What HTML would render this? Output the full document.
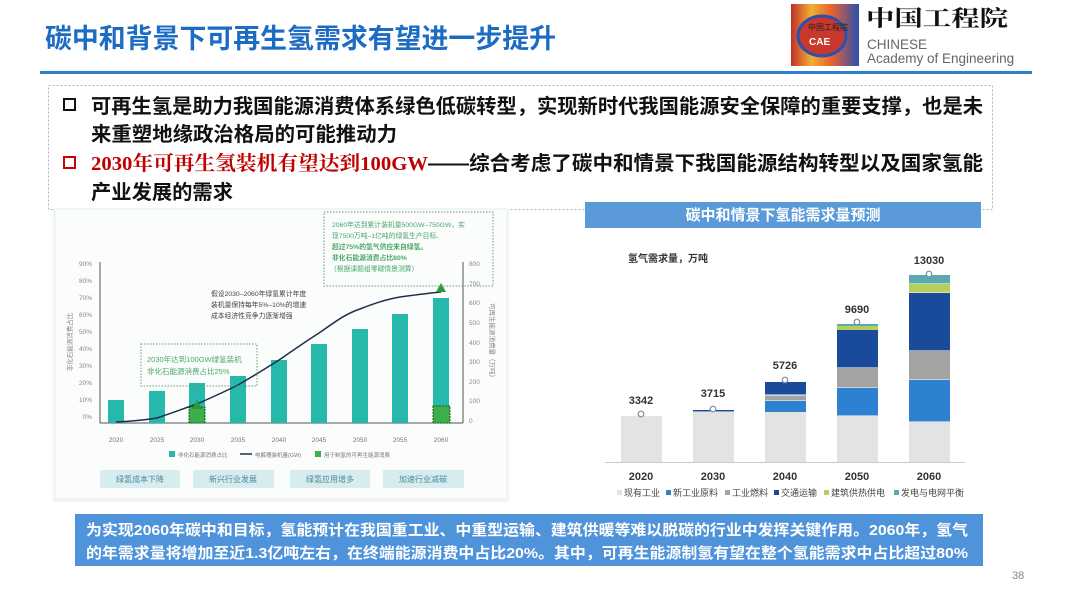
<!DOCTYPE html>
<html><head><meta charset="utf-8"><style>
html,body{margin:0;padding:0;background:#fff;}
svg{display:block;font-family:"Liberation Sans","Noto Sans CJK SC",sans-serif;}
</style></head><body>
<svg width="1080" height="607" viewBox="0 0 1080 607" xmlns="http://www.w3.org/2000/svg">
<!-- header -->
<text x="45" y="48" font-size="27" font-weight="bold" fill="#1d6cc4" textLength="511" lengthAdjust="spacingAndGlyphs">碳中和背景下可再生氢需求有望进一步提升</text>
<rect x="40" y="71" width="992" height="3" fill="#2a7fd0"/>
<!-- logo -->
<defs><linearGradient id="lg" x1="0" x2="1"><stop offset="0" stop-color="#c0302a"/><stop offset="0.3" stop-color="#f0b030"/><stop offset="0.6" stop-color="#e86030"/><stop offset="1" stop-color="#2a50b0"/></linearGradient></defs>
<rect x="791" y="4" width="68" height="62" fill="url(#lg)"/>
<ellipse cx="822" cy="36" rx="24" ry="20" fill="#c8382c" stroke="#2a50b0" stroke-width="3"/>
<text x="808" y="30" font-size="8" fill="#222">中国工程院</text>
<text x="809" y="45" font-size="10" font-weight="bold" fill="#fff">CAE</text>
<text x="866" y="26" font-size="22" font-weight="bold" font-family="'Noto Serif CJK SC',serif" fill="#111" textLength="142" lengthAdjust="spacingAndGlyphs">中国工程院</text>
<text x="867" y="49" font-size="13.5" fill="#666">CHINESE</text>
<text x="867" y="63" font-size="13.5" fill="#666">Academy of Engineering</text>
<!-- bullet box -->
<rect x="48.5" y="85.5" width="944" height="124" fill="none" stroke="#a8b8d0" stroke-dasharray="2,2"/>
<g font-size="20" font-weight="bold">
<rect x="64" y="99" width="11" height="11" fill="none" stroke="#111" stroke-width="2"/>
<text x="91" y="113" fill="#111" textLength="892" lengthAdjust="spacingAndGlyphs">可再生氢是助力我国能源消费体系绿色低碳转型，实现新时代我国能源安全保障的重要支撑，也是未</text>
<text x="91" y="141" fill="#111" textLength="306" lengthAdjust="spacingAndGlyphs">来重塑地缘政治格局的可能推动力</text>
<rect x="64" y="157" width="11" height="11" fill="none" stroke="#c00" stroke-width="2"/>
<text x="91" y="170" fill="#c00000" font-family="'Liberation Serif','Noto Serif CJK SC',serif" textLength="337" lengthAdjust="spacingAndGlyphs">2030年可再生氢装机有望达到100GW</text>
<text x="428" y="170" fill="#111" textLength="555" lengthAdjust="spacingAndGlyphs">——综合考虑了碳中和情景下我国能源结构转型以及国家氢能</text>
<text x="91" y="199" fill="#111" textLength="142" lengthAdjust="spacingAndGlyphs">产业发展的需求</text>
</g>
<!-- left chart -->
<rect x="53" y="208" width="456" height="294" fill="#f2f5f5"/>
<rect x="56" y="210" width="450" height="288" fill="#fbfcfc"/>
<g font-size="6.5" fill="#888">
<text x="92" y="266" text-anchor="end">90%</text><text x="92" y="283" text-anchor="end">80%</text><text x="92" y="300" text-anchor="end">70%</text><text x="92" y="317" text-anchor="end">60%</text><text x="92" y="334" text-anchor="end">50%</text><text x="92" y="351" text-anchor="end">40%</text><text x="92" y="368" text-anchor="end">30%</text><text x="92" y="385" text-anchor="end">20%</text><text x="92" y="402" text-anchor="end">10%</text><text x="92" y="419" text-anchor="end">0%</text>
<text x="469" y="266">800</text><text x="469" y="286">700</text><text x="469" y="305">600</text><text x="469" y="325">500</text><text x="469" y="345">400</text><text x="469" y="364">300</text><text x="469" y="384">200</text><text x="469" y="403">100</text><text x="469" y="423">0</text>
<text transform="translate(72,342) rotate(-90)" text-anchor="middle">非化石能源消费占比</text>
<text transform="translate(490,342) rotate(90)" text-anchor="middle">可再生能源消费量（万吨）</text>
</g>
<line x1="100" y1="262" x2="100" y2="423" stroke="#555" stroke-width="1"/>
<line x1="463" y1="262" x2="463" y2="423" stroke="#555" stroke-width="1"/>
<line x1="100" y1="423" x2="463" y2="423" stroke="#555" stroke-width="1"/>
<g fill="#26b8aa">
<rect x="108" y="400" width="16" height="23"/><rect x="149" y="391" width="16" height="32"/><rect x="189" y="383" width="16" height="40"/><rect x="230" y="376" width="16" height="47"/><rect x="271" y="360" width="16" height="63"/><rect x="311" y="344" width="16" height="79"/><rect x="352" y="329" width="16" height="94"/><rect x="392" y="314" width="16" height="109"/><rect x="433" y="298" width="16" height="125"/>
</g>
<rect x="189" y="407" width="16" height="16" fill="#3cae4a" stroke="#1a5a20" stroke-dasharray="2,1"/>
<rect x="433" y="406" width="17" height="17" fill="#3cae4a" stroke="#1a5a20" stroke-dasharray="2,1"/>
<path d="M116,422 C135,421 145,420 157,418 C175,412 185,408 197,404 C215,396 228,390 238,385 C255,375 265,369 279,360 C295,349 305,342 319,333 C335,322 345,314 360,309 C375,303 388,299 400,297 C415,295 430,293 441,292" fill="none" stroke="#1c2f4a" stroke-width="1.5"/>
<polygon points="441,283 436,292 446,292" fill="#2a9a3a"/>
<polygon points="197,400 192,409 202,409" fill="#2a9a3a"/>
<rect x="324" y="212" width="169" height="74" fill="none" stroke="#6a9a7a" stroke-dasharray="1.5,1.5"/>
<rect x="141" y="344" width="116" height="42" fill="none" stroke="#6a9a7a" stroke-dasharray="1.5,1.5"/>
<g font-size="6.8" fill="#4aa868">
<text x="332" y="227">2060年达到累计装机量500GW–750GW，实</text>
<text x="332" y="238">现7500万吨–1亿吨的绿氢生产目标、</text>
<text x="332" y="249" font-weight="bold">超过75%的氢气供应来自绿氢。</text>
<text x="332" y="260" font-weight="bold">非化石能源消费占比80%</text>
<text x="330" y="271">（根据课题组零碳情景测算）</text>
<text x="147" y="362" font-size="7.5">2030年达到100GW绿氢装机</text>
<text x="147" y="374" font-size="7.5">非化石能源消费占比25%</text>
</g>
<g font-size="6.8" fill="#444">
<text x="211" y="296">假设2030–2060年绿氢累计年度</text>
<text x="211" y="307">装机量保持每年5%–10%的增速</text>
<text x="211" y="318">成本经济性竞争力逐渐增强</text>
</g>
<g font-size="6.5" fill="#777" text-anchor="middle">
<text x="116" y="442">2020</text><text x="157" y="442">2025</text><text x="197" y="442">2030</text><text x="238" y="442">2035</text><text x="279" y="442">2040</text><text x="319" y="442">2045</text><text x="360" y="442">2050</text><text x="400" y="442">2055</text><text x="441" y="442">2060</text>
</g>
<rect x="169" y="451" width="6" height="6" fill="#26b8aa"/><text x="178" y="457" font-size="5.5" fill="#777">非化石能源消费占比</text>
<line x1="240" y1="454" x2="252" y2="454" stroke="#1c2f4a" stroke-width="1.5"/><text x="255" y="457" font-size="5.5" fill="#777">电解槽装机量(GW)</text>
<rect x="315" y="451" width="6" height="6" fill="#3cae4a"/><text x="324" y="457" font-size="5.5" fill="#777">用于制氢的可再生能源消费</text>
<g fill="#d6eced"><rect x="100" y="470" width="80" height="18"/><rect x="193" y="470" width="81" height="18"/><rect x="290" y="470" width="80" height="18"/><rect x="383" y="470" width="81" height="18"/></g>
<g font-size="8" fill="#4a8aa0" text-anchor="middle"><text x="140" y="482">绿氢成本下降</text><text x="233" y="482">新兴行业发展</text><text x="330" y="482">绿氢应用增多</text><text x="423" y="482">加速行业减碳</text></g>
<!-- right chart -->
<rect x="585" y="202" width="396" height="26" fill="#5a9ad8"/>
<text x="783" y="220" font-size="15" font-weight="bold" fill="#fff" text-anchor="middle">碳中和情景下氢能需求量预测</text>
<text x="628" y="262" font-size="10" font-weight="bold" fill="#333">氢气需求量，万吨</text>
<line x1="605" y1="462.5" x2="965" y2="462.5" stroke="#ccc"/>
<g>
<rect x="621" y="416" width="41" height="46" fill="#e3e3e3"/>
<rect x="693" y="412" width="41" height="50" fill="#e3e3e3"/><rect x="693" y="410" width="41" height="1.5" fill="#1a4a9a"/>
<rect x="765" y="412" width="41" height="50" fill="#e3e3e3"/><rect x="765" y="401" width="41" height="11" fill="#2e80d0"/><rect x="765" y="395.5" width="41" height="5" fill="#a3a3a3"/><rect x="765" y="382" width="41" height="12.5" fill="#1a4a9a"/>
<rect x="837" y="416" width="41" height="46" fill="#e3e3e3"/><rect x="837" y="388" width="41" height="27.5" fill="#2e80d0"/><rect x="837" y="368" width="41" height="19.5" fill="#a3a3a3"/><rect x="837" y="330" width="41" height="37.5" fill="#1a4a9a"/><rect x="837" y="326" width="41" height="4" fill="#b6cf5c"/><rect x="837" y="324" width="41" height="2" fill="#5aabb0"/>
<rect x="909" y="422" width="41" height="40" fill="#e3e3e3"/><rect x="909" y="380" width="41" height="41.5" fill="#2e80d0"/><rect x="909" y="351" width="41" height="28.5" fill="#a3a3a3"/><rect x="909" y="293" width="41" height="57.5" fill="#1a4a9a"/><rect x="909" y="284" width="41" height="8.5" fill="#b6cf5c"/><rect x="909" y="275" width="41" height="8.5" fill="#5aabb0"/>
</g>
<g fill="#fff" stroke="#7a8ab8" stroke-width="1.2"><circle cx="641" cy="414" r="2.8"/><circle cx="713" cy="409" r="2.8"/><circle cx="785" cy="380" r="2.8"/><circle cx="857" cy="322" r="2.8"/><circle cx="929" cy="274" r="2.8"/></g>
<g font-size="11" font-weight="bold" fill="#333" text-anchor="middle">
<text x="641" y="404">3342</text><text x="713" y="397">3715</text><text x="785" y="369">5726</text><text x="857" y="313">9690</text><text x="929" y="264">13030</text>
</g>
<g font-size="11" font-weight="bold" fill="#333" text-anchor="middle">
<text x="641" y="480">2020</text><text x="713" y="480">2030</text><text x="785" y="480">2040</text><text x="857" y="480">2050</text><text x="929" y="480">2060</text>
</g>
<g font-size="9" fill="#444">
<rect x="617" y="490" width="5" height="5" fill="#e3e3e3"/><text x="624" y="496">现有工业</text>
<rect x="666" y="490" width="5" height="5" fill="#2e80d0"/><text x="673" y="496">新工业原料</text>
<rect x="725" y="490" width="5" height="5" fill="#a3a3a3"/><text x="732" y="496">工业燃料</text>
<rect x="774" y="490" width="5" height="5" fill="#1a4a9a"/><text x="781" y="496">交通运输</text>
<rect x="824" y="490" width="5" height="5" fill="#b6cf5c"/><text x="831" y="496">建筑供热供电</text>
<rect x="894" y="490" width="5" height="5" fill="#5aabb0"/><text x="901" y="496">发电与电网平衡</text>
</g>
<!-- bottom box -->
<rect x="75" y="514" width="908" height="52" fill="#4f93da"/>
<g font-size="15" font-weight="bold" fill="#fff">
<text x="86" y="535" textLength="882" lengthAdjust="spacingAndGlyphs">为实现2060年碳中和目标，氢能预计在我国重工业、中重型运输、建筑供暖等难以脱碳的行业中发挥关键作用。2060年，氢气</text>
<text x="86" y="558" textLength="882" lengthAdjust="spacingAndGlyphs">的年需求量将增加至近1.3亿吨左右，在终端能源消费中占比20%。其中，可再生能源制氢有望在整个氢能需求中占比超过80%</text>
</g>
<text x="1012" y="579" font-size="11" fill="#888">38</text>
</svg>
</body></html>
